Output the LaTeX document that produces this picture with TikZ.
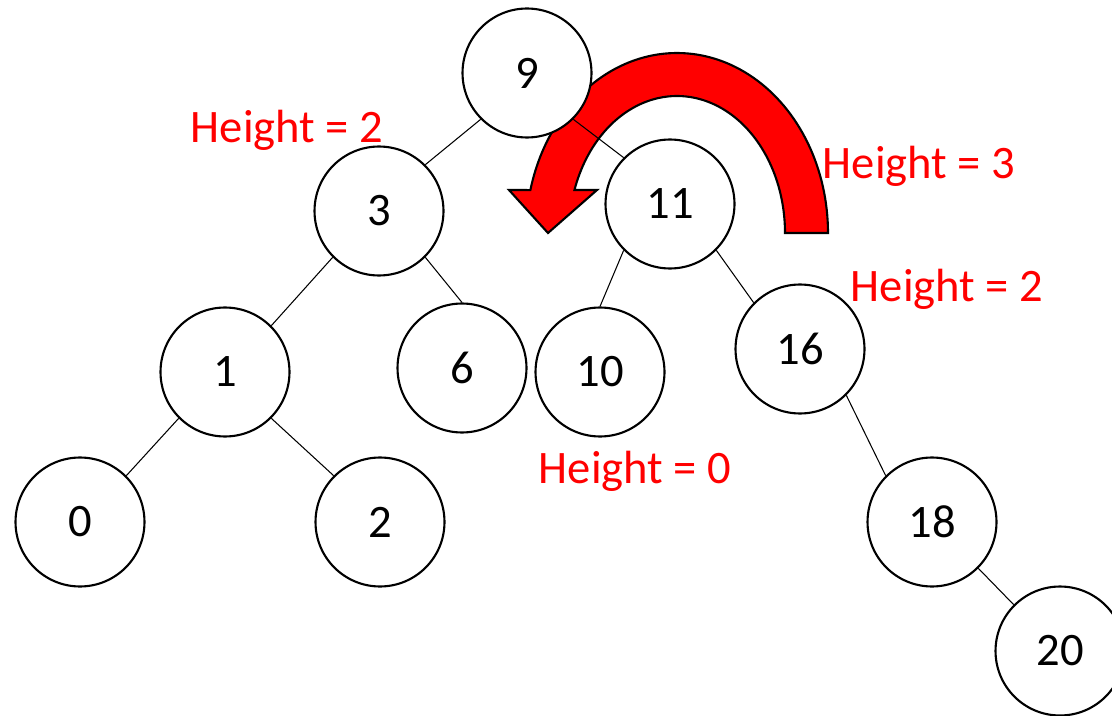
\documentclass[tikz,border=0pt]{standalone}
\usepackage{fontspec}
\setmainfont{Carlito}
\begin{document}
\begin{tikzpicture}[x=0.02cm,y=-0.02cm,
  tnode/.style={circle,draw=black,fill=white,line width=1.2pt,minimum size=2.58cm,inner sep=0pt,font=\fontsize{26.5}{30}\selectfont},
  edge/.style={draw=black,line width=0.6pt},
  hlabel/.style={text=red,inner sep=0pt,font=\fontsize{26.5}{30}\selectfont},
  rotarrow/.style={fill=red,draw=black,line width=1.2pt,line join=miter}]
\useasboundingbox (0,0) rectangle (1112,716);
% rotation arrow
\draw[rotarrow] (828,233) -- plot[domain=0:166.2,samples=90] ({677+151*cos(\x)},{233-180*sin(\x)})
  -- (509,190) -- (548,233) -- (597,190)
  -- plot[domain=161.7:0,samples=90] ({677+108*cos(\x)},{233-137*sin(\x)}) -- cycle;
% nodes
\node[tnode] (n9) at (527,73) {9};
\node[tnode] (n3) at (379,211) {3};
\node[tnode] (n11) at (670,204) {11};
\node[tnode] (n1) at (225,372) {1};
\node[tnode] (n6) at (462,368) {6};
\node[tnode] (n10) at (600,372) {10};
\node[tnode] (n16) at (800,349) {16};
\node[tnode] (n0) at (80,522) {0};
\node[tnode] (n2) at (380,522) {2};
\node[tnode] (n18) at (932,522) {18};
\node[tnode] (n20) at (1060,651) {20};
% edges
\draw[edge] (n9.south west) -- (n3.north east);
\draw[edge] (n9.south east) -- (n11.north west);
\draw[edge] (n3.south west) -- (n1.north east);
\draw[edge] (n3.south east) -- (n6.north);
\draw[edge] (n11.south west) -- (n10.north);
\draw[edge] (n11.south east) -- (n16.north west);
\draw[edge] (n1.south west) -- (n0.north east);
\draw[edge] (n1.south east) -- (n2.north west);
\draw[edge] (n16.south east) -- (n18.north west);
\draw[edge] (n18.south east) -- (n20.north west);
% labels
\node[hlabel] (h3) at (287,130) {Height = 2};
\node[hlabel] (h11) at (919,166) {Height = 3};
\node[hlabel] (h16) at (947,289) {Height = 2};
\node[hlabel] (h10) at (635,471) {Height = 0};
\end{tikzpicture}
\end{document}
